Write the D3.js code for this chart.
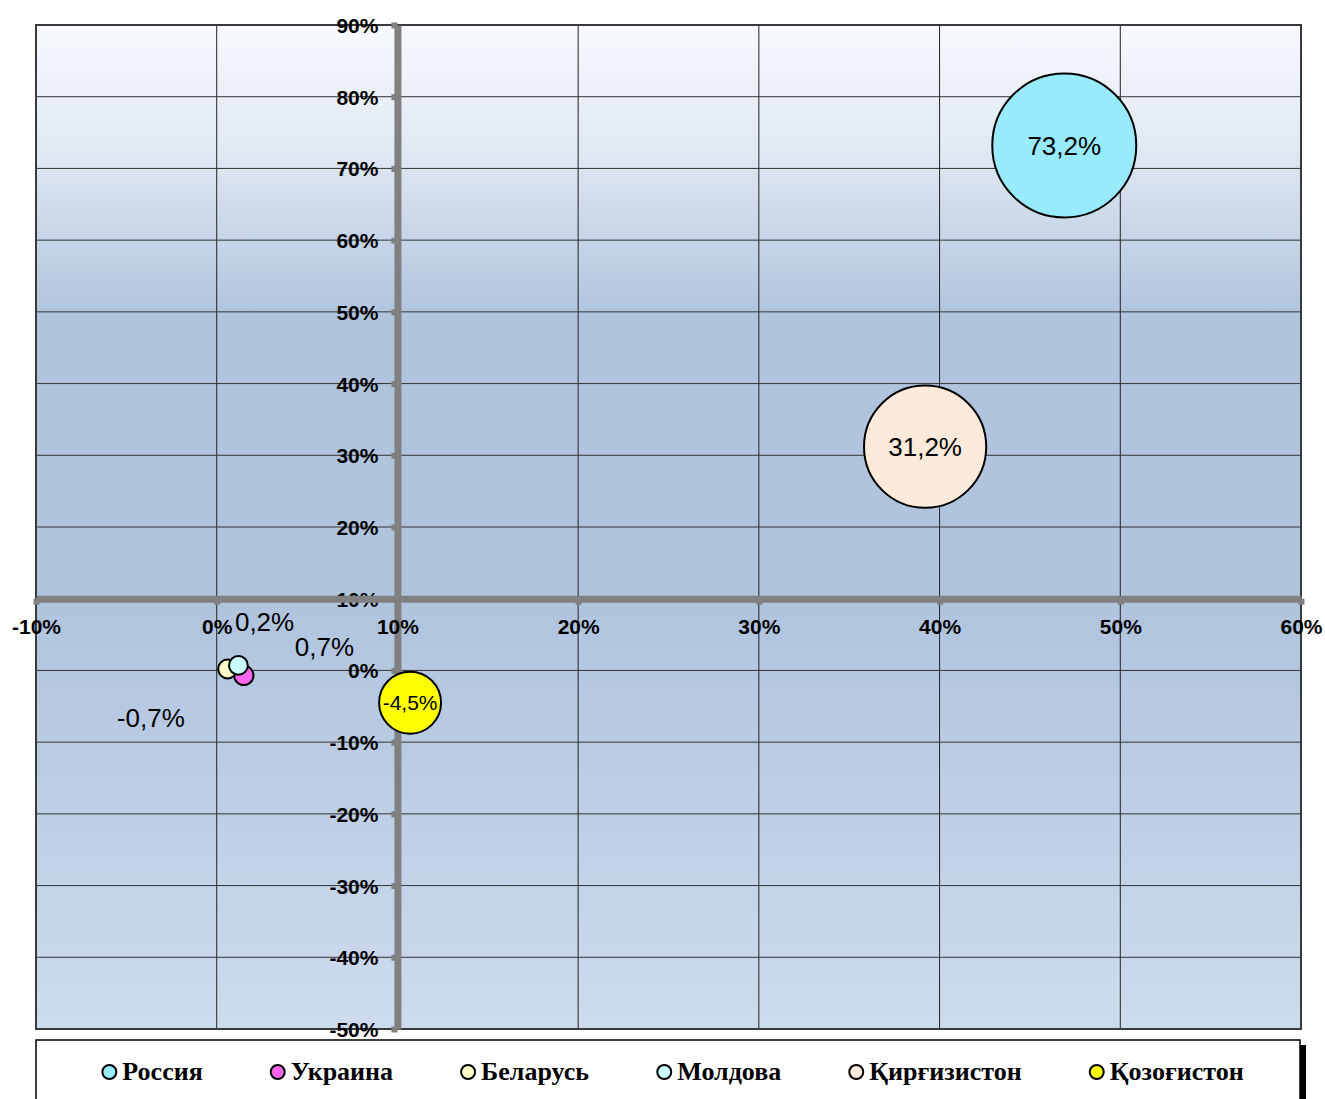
<!DOCTYPE html>
<html>
<head>
<meta charset="utf-8">
<script src="https://cdn.jsdelivr.net/npm/d3@7"></script>
<style>
  body { margin: 0; background: #fff; }
  .axis text { font-family: "Liberation Sans", Arial, sans-serif; font-weight: bold; font-size: 21px; fill: #000; }
  .axis .domain { stroke: #808080; stroke-width: 7; }
  .axis .tick line { stroke: #808080; stroke-width: 6; }
  .lbl { font-family: "Liberation Sans", Arial, sans-serif; fill: #000; }
  .legend text { font-family: "Liberation Serif", "Times New Roman", serif; font-weight: bold; font-size: 26px; fill: #000; }
</style>
</head>
<body>
<div id="chart"></div>
<script>
const WIDTH = 1325;
const HEIGHT = 1099;
const LEFT = 36, RIGHT = 1301, TOP = 25, BOTTOM = 1029;

// data
var countries = ["Россия", "Украина", "Беларусь", "Молдова", "Қирғизистон", "Қозоғистон"];
var xValues = [46.9, 1.5, 0.6, 1.2, 39.2, 10.7];
var yValues = [73.2, -0.7, 0.2, 0.7, 31.2, -4.5];
var bubbleSizes = [100, 1.8, 1.7, 1.7, 72, 18.5];
var colors = ["#97ebfd", "#ff66f0", "#ffffcc", "#ccffff", "#fdeadb", "#ffff00"];
var xTicks = [-10, 0, 10, 20, 30, 40, 50, 60];
var yTicks = [90, 80, 70, 60, 50, 40, 30, 20, 10, 0, -10, -20, -30, -40, -50];

var DATASET = countries.map((c, i) => ({
  name: c, x: xValues[i], y: yValues[i], size: bubbleSizes[i], color: colors[i], i: i
}));

// where each label sits relative to its bubble (small bubbles get pushed off)
var labelShift = { "Беларусь": [37, -47], "Молдова": [86, -19], "Украина": [-93, 42] };

var xScale = d3.scaleLinear().domain([-10, 60]).range([LEFT, RIGHT]);
var yScale = d3.scaleLinear().domain([-50, 90]).range([BOTTOM, TOP]);
var rScale = d3.scaleSqrt().domain([0, 100]).range([0, 72]);

var fmt = v => d3.format(".1f")(v).replace(".", ",").replace("\u2212", "-") + "%";

var svg = d3.select("#chart").append("svg")
  .attr("width", WIDTH)
  .attr("height", HEIGHT);

// background gradient
var grad = svg.append("defs").append("linearGradient")
  .attr("id", "bg").attr("x1", 0).attr("y1", 0).attr("x2", 0).attr("y2", 1);
[[0, "#f7f9fd"], [0.12, "#e1e9f3"], [0.29, "#b0c4de"], [0.58, "#b0c4de"], [1, "#cddbee"]]
  .forEach(s => grad.append("stop").attr("offset", s[0]).attr("stop-color", s[1]));

svg.append("rect")
  .attr("x", LEFT).attr("y", TOP)
  .attr("width", RIGHT - LEFT).attr("height", BOTTOM - TOP)
  .attr("fill", "url(#bg)");

//gridlines
svg.append("g").selectAll("line").data(xTicks).enter().append("line")
  .attr("x1", d => xScale(d)).attr("x2", d => xScale(d))
  .attr("y1", TOP).attr("y2", BOTTOM)
  .attr("stroke", "#222").attr("stroke-width", 1);
svg.append("g").selectAll("line").data(yTicks).enter().append("line")
  .attr("x1", LEFT).attr("x2", RIGHT)
  .attr("y1", d => yScale(d)).attr("y2", d => yScale(d))
  .attr("stroke", "#333").attr("stroke-width", 1);

// plot border
svg.append("rect")
  .attr("x", LEFT).attr("y", TOP)
  .attr("width", RIGHT - LEFT).attr("height", BOTTOM - TOP)
  .attr("fill", "none").attr("stroke", "#3a3a3a").attr("stroke-width", 2);

// axes cross at 10% / 10%
var yAxis = d3.axisLeft(yScale).tickValues(yTicks).tickSize(6).tickSizeOuter(0).tickPadding(13)
  .tickFormat(d => d + "%");
var xAxis = d3.axisBottom(xScale).tickValues(xTicks).tickSize(6).tickSizeOuter(0).tickPadding(14)
  .tickFormat(d => d + "%");

svg.append("g").attr("class", "axis")
  .attr("transform", "translate(" + xScale(10) + ",0)")
  .call(yAxis)
  .call(g => g.selectAll("text").attr("dy", "0.36em"));

svg.append("g").attr("class", "axis")
  .attr("transform", "translate(0," + yScale(10) + ")")
  .call(xAxis)
  .call(g => g.selectAll("text").attr("y", 28).attr("dy", "0.36em"));

// bubbles
var bubbles = svg.append("g").selectAll("g").data(DATASET).enter().append("g");
bubbles.append("circle")
  .attr("cx", d => xScale(d.x))
  .attr("cy", d => yScale(d.y))
  .attr("r", d => rScale(d.size))
  .attr("fill", d => d.color)
  .attr("stroke", "#000")
  .attr("stroke-width", 2);

bubbles.append("text")
  .attr("class", "lbl")
  .attr("x", d => xScale(d.x) + (labelShift[d.name] ? labelShift[d.name][0] : 0))
  .attr("y", d => yScale(d.y) + (labelShift[d.name] ? labelShift[d.name][1] : 0))
  .attr("dy", "0.36em")
  .attr("text-anchor", "middle")
  .style("font-size", d => rScale(d.size) < 40 && !labelShift[d.name] ? "21px" : "26px")
  .text(d => fmt(d.y));

// legend
svg.append("rect")
  .attr("x", 1300).attr("y", 1045).attr("width", 6).attr("height", 60)
  .attr("fill", "#000");
svg.append("rect")
  .attr("x", LEFT).attr("y", 1040).attr("width", 1300 - LEFT).attr("height", 80)
  .attr("fill", "#fff").attr("stroke", "#000").attr("stroke-width", 1.5);

var legend = svg.append("g").attr("class", "legend");
var items = legend.selectAll("g").data(DATASET).enter().append("g");
items.append("circle")
  .attr("r", 7).attr("cx", 0).attr("cy", -8)
  .attr("fill", d => d.color).attr("stroke", "#000").attr("stroke-width", 2);
items.append("text").attr("x", 13).attr("y", 0).text(d => d.name);

var gap = 68;
var widths = [];
items.each(function () { widths.push(this.getBBox().width); });
var total = d3.sum(widths) + gap * (widths.length - 1);
var cursor = (LEFT + 1300) / 2 - total / 2 + 12;
items.attr("transform", (d, i) => {
  var t = "translate(" + cursor + ",1080)";
  cursor += widths[i] + gap;
  return t;
});
</script>
</body>
</html>
